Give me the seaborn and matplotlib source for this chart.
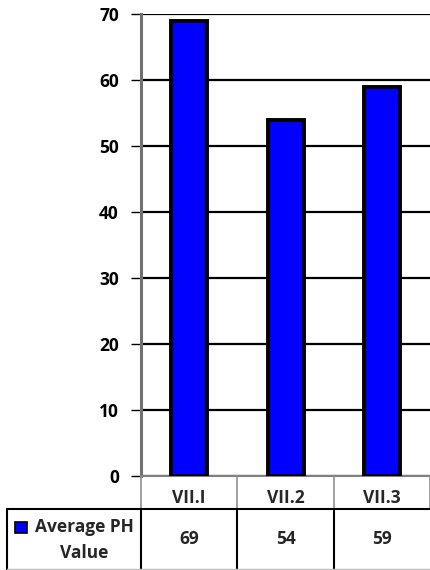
import matplotlib
matplotlib.use("Agg")
import matplotlib.pyplot as plt
import seaborn as sns
import pandas as pd
from matplotlib.patches import Rectangle

categories = ["VII.I", "VII.2", "VII.3"]
values = [69, 54, 59]
series_name = "Average PH Value"
y_ticks = [0, 10, 20, 30, 40, 50, 60, 70]

sns.set_theme(style="white")
plt.rcParams["font.family"] = ["Open Sans", "DejaVu Sans"]
plt.rcParams["font.weight"] = "bold"
FS = 12.5

df = pd.DataFrame({"cat": categories, "val": values})

fig = plt.figure(figsize=(4.3, 5.7), dpi=100)
ax = fig.add_axes([141 / 430, 94 / 570, 289.5 / 430, 462 / 570])

sns.barplot(data=df, x="cat", y="val", color="#0000FF", saturation=1,
            edgecolor="black", linewidth=2.8, width=0.37, ax=ax, zorder=3)

ax.set_ylim(0, 70)
ax.set_xlim(-0.5, 2.5)
ax.set_yticks(y_ticks)
ax.set_yticklabels([str(t) for t in y_ticks], fontsize=FS, fontweight="bold", color="black")
ax.set_xticks([])
ax.set_xlabel("")
ax.set_ylabel("")
ax.yaxis.grid(True, color="black", linewidth=1.6)
ax.set_axisbelow(True)
ax.tick_params(axis="y", left=True, length=7, width=1, color="black", pad=9)

for side in ["top", "right"]:
    ax.spines[side].set_visible(False)
ax.spines["left"].set_color("#707070")
ax.spines["left"].set_linewidth(2.2)
ax.spines["bottom"].set_color("#808080")
ax.spines["bottom"].set_linewidth(1.5)

# data table under the plot (axes coordinates)
h_row = -33 / 462
t_bot = -94 / 462
x_left = (7 - 141) / 289.5
tr = ax.transAxes

def line(xs, ys, color, lw):
    ax.plot(xs, ys, transform=tr, color=color, linewidth=lw, clip_on=False, zorder=5)

for i in range(4):
    x = i / 3
    line([x, x], [0, h_row], "#909090", 1.2)
line([x_left, 1], [h_row, h_row], "black", 1.5)
for x in [x_left, 0, 1 / 3, 2 / 3]:
    line([x, x], [h_row, t_bot], "black", 1.5)
line([x_left, 1], [t_bot + 0.002, t_bot + 0.002], "#c0c0c0", 1)

for i, (c, v) in enumerate(zip(categories, values)):
    xc = (i + 0.5) / 3
    ax.text(xc, -(498 - 476) / 462, c, transform=tr, ha="center", va="center",
            fontsize=FS, fontweight="bold")
    ax.text(xc, -(539 - 476) / 462, str(v), transform=tr, ha="center", va="center",
            fontsize=FS, fontweight="bold")

ax.add_patch(Rectangle(((15 - 141) / 289.5, -(533 - 476) / 462), 12 / 289.5, 11 / 462,
                       transform=tr, facecolor="#0000FF", edgecolor="black",
                       linewidth=1.2, clip_on=False))
name_a, name_b = series_name.rsplit(" ", 1)
ax.text((84 - 141) / 289.5, -(527 - 476) / 462, name_a, transform=tr, ha="center",
        va="center", fontsize=FS, fontweight="bold")
ax.text((84 - 141) / 289.5, -(553 - 476) / 462, name_b, transform=tr, ha="center",
        va="center", fontsize=FS, fontweight="bold")

fig.savefig("out.png", dpi=100)
